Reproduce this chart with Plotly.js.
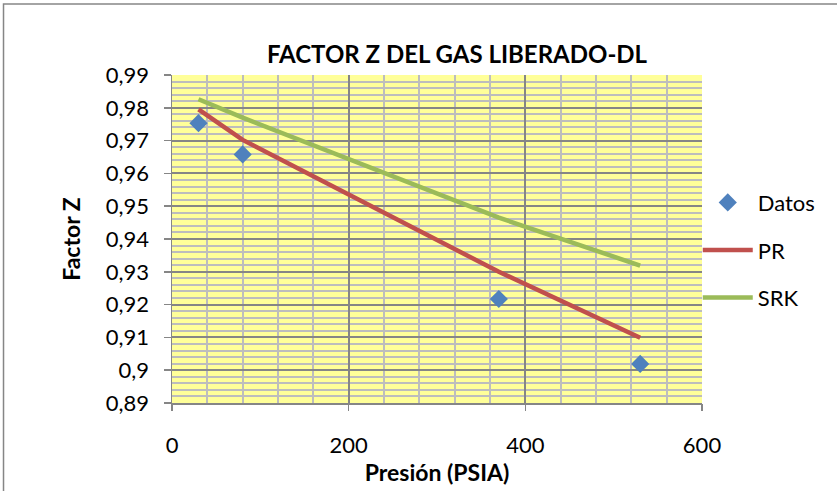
<!DOCTYPE html>
<html>
<head>
<meta charset="utf-8">
<script src="https://cdn.plot.ly/plotly-3.0.1.min.js"></script>
<style>
  html, body { margin: 0; padding: 0; background: #ffffff; }
  #chart { width: 837px; height: 491px; }
</style>
</head>
<body>
<div id="chart"></div>
<script>
// Presión del gas liberado (PSIA) y factor Z: datos medidos y ecuaciones de estado
const pressure = [30, 80, 370, 530];
const zDatos = [0.9753, 0.9658, 0.9217, 0.9019];
const zPR = [0.9795, 0.9702, 0.9300, 0.9099];
const zSRK = [0.9826, 0.9770, 0.9465, 0.9319];

const seriesNames = ['Datos', 'PR', 'SRK'];
const chartTitle = 'FACTOR Z DEL GAS LIBERADO-DL';
const xTitle = 'Presión (PSIA)';
const yTitle = 'Factor Z';

const FONT = 'Lato, "Open Sans", "Noto Sans", sans-serif';
const MAJOR_GRID = '#868686';
const MINOR_GRID = '#BDBDBD';

const traces = [
  {
    x: pressure, y: zDatos, name: seriesNames[0], type: 'scatter', mode: 'markers',
    xaxis: 'x', yaxis: 'y', legendgroup: 'a',
    marker: { symbol: 'diamond', size: 14, color: '#4F81BD', line: { width: 0 } }
  },
  {
    x: pressure, y: zPR, name: seriesNames[1], type: 'scatter', mode: 'lines',
    xaxis: 'x2', yaxis: 'y', legendgroup: 'b',
    line: { color: '#C0504D', width: 4.5 }
  },
  {
    x: pressure, y: zSRK, name: seriesNames[2], type: 'scatter', mode: 'lines',
    xaxis: 'x2', yaxis: 'y', legendgroup: 'c',
    line: { color: '#9BBB59', width: 4.5 }
  }
];

const layout = {
  width: 837, height: 491,
  margin: { l: 172, r: 135, t: 75, b: 88, pad: 0 },
  paper_bgcolor: '#ffffff',
  plot_bgcolor: '#FFFF99',
  separators: ',.',
  font: { family: FONT, size: 22, color: '#000000' },
  title: {
    text: '<b>' + chartTitle + '</b>',
    font: { family: FONT, size: 24, color: '#000000' },
    x: 0.546, xanchor: 'center', xref: 'container',
    y: 0.889, yanchor: 'middle', yref: 'container'
  },
  // fine vertical grid every 40 PSIA (no labels)
  xaxis: {
    range: [0, 600], dtick: 40, tick0: 0,
    showline: true, linecolor: MAJOR_GRID, linewidth: 1.5,
    showgrid: true, gridcolor: MINOR_GRID, gridwidth: 2,
    ticks: '', showticklabels: false,
    zeroline: false
  },
  // labelled axis with the heavier grid every 200 PSIA
  xaxis2: {
    overlaying: 'x', anchor: 'y', side: 'bottom',
    range: [0, 600], dtick: 200, tick0: 0,
    showline: false,
    showgrid: true, gridcolor: MAJOR_GRID, gridwidth: 2,
    ticks: 'outside', ticklen: 7, tickcolor: MAJOR_GRID, tickwidth: 1.5,
    ticklabelstandoff: 16,
    tickfont: { family: FONT, size: 22, color: '#000000' },
    zeroline: false,
    title: { text: '<b>' + xTitle + '</b>', font: { family: FONT, size: 23, color: '#000000' }, standoff: 5 }
  },
  yaxis: {
    range: [0.89, 0.99], dtick: 0.01, tick0: 0.89,
    showline: true, linecolor: MAJOR_GRID, linewidth: 1.5,
    showgrid: true, gridcolor: MAJOR_GRID, gridwidth: 2,
    ticks: 'outside', ticklen: 7, tickcolor: MAJOR_GRID, tickwidth: 1.5,
    ticklabelstandoff: 10,
    tickfont: { family: FONT, size: 22, color: '#000000' },
    minor: { dtick: 0.002, tick0: 0.89, showgrid: true, gridcolor: MINOR_GRID, gridwidth: 2 },
    zeroline: false,
    title: { text: '<b>' + yTitle + '</b>', font: { family: FONT, size: 23, color: '#000000' }, standoff: 19 }
  },
  legend: {
    x: 0.992, xanchor: 'left', y: 0.675, yanchor: 'top',
    bgcolor: 'rgba(0,0,0,0)', borderwidth: 0,
    traceorder: 'grouped', tracegroupgap: 16,
    itemwidth: 50,
    font: { family: FONT, size: 22, color: '#000000' }
  },
  shapes: [
    {
      type: 'rect', xref: 'paper', yref: 'paper',
      x0: -0.3179, x1: 1.27, y0: -0.3, y1: 1.2165,
      line: { color: MAJOR_GRID, width: 1.5 }, fillcolor: 'rgba(0,0,0,0)', layer: 'below'
    }
  ],
  showlegend: true
};

Plotly.newPlot('chart', traces, layout, { displayModeBar: false, staticPlot: true });
</script>
</body>
</html>
